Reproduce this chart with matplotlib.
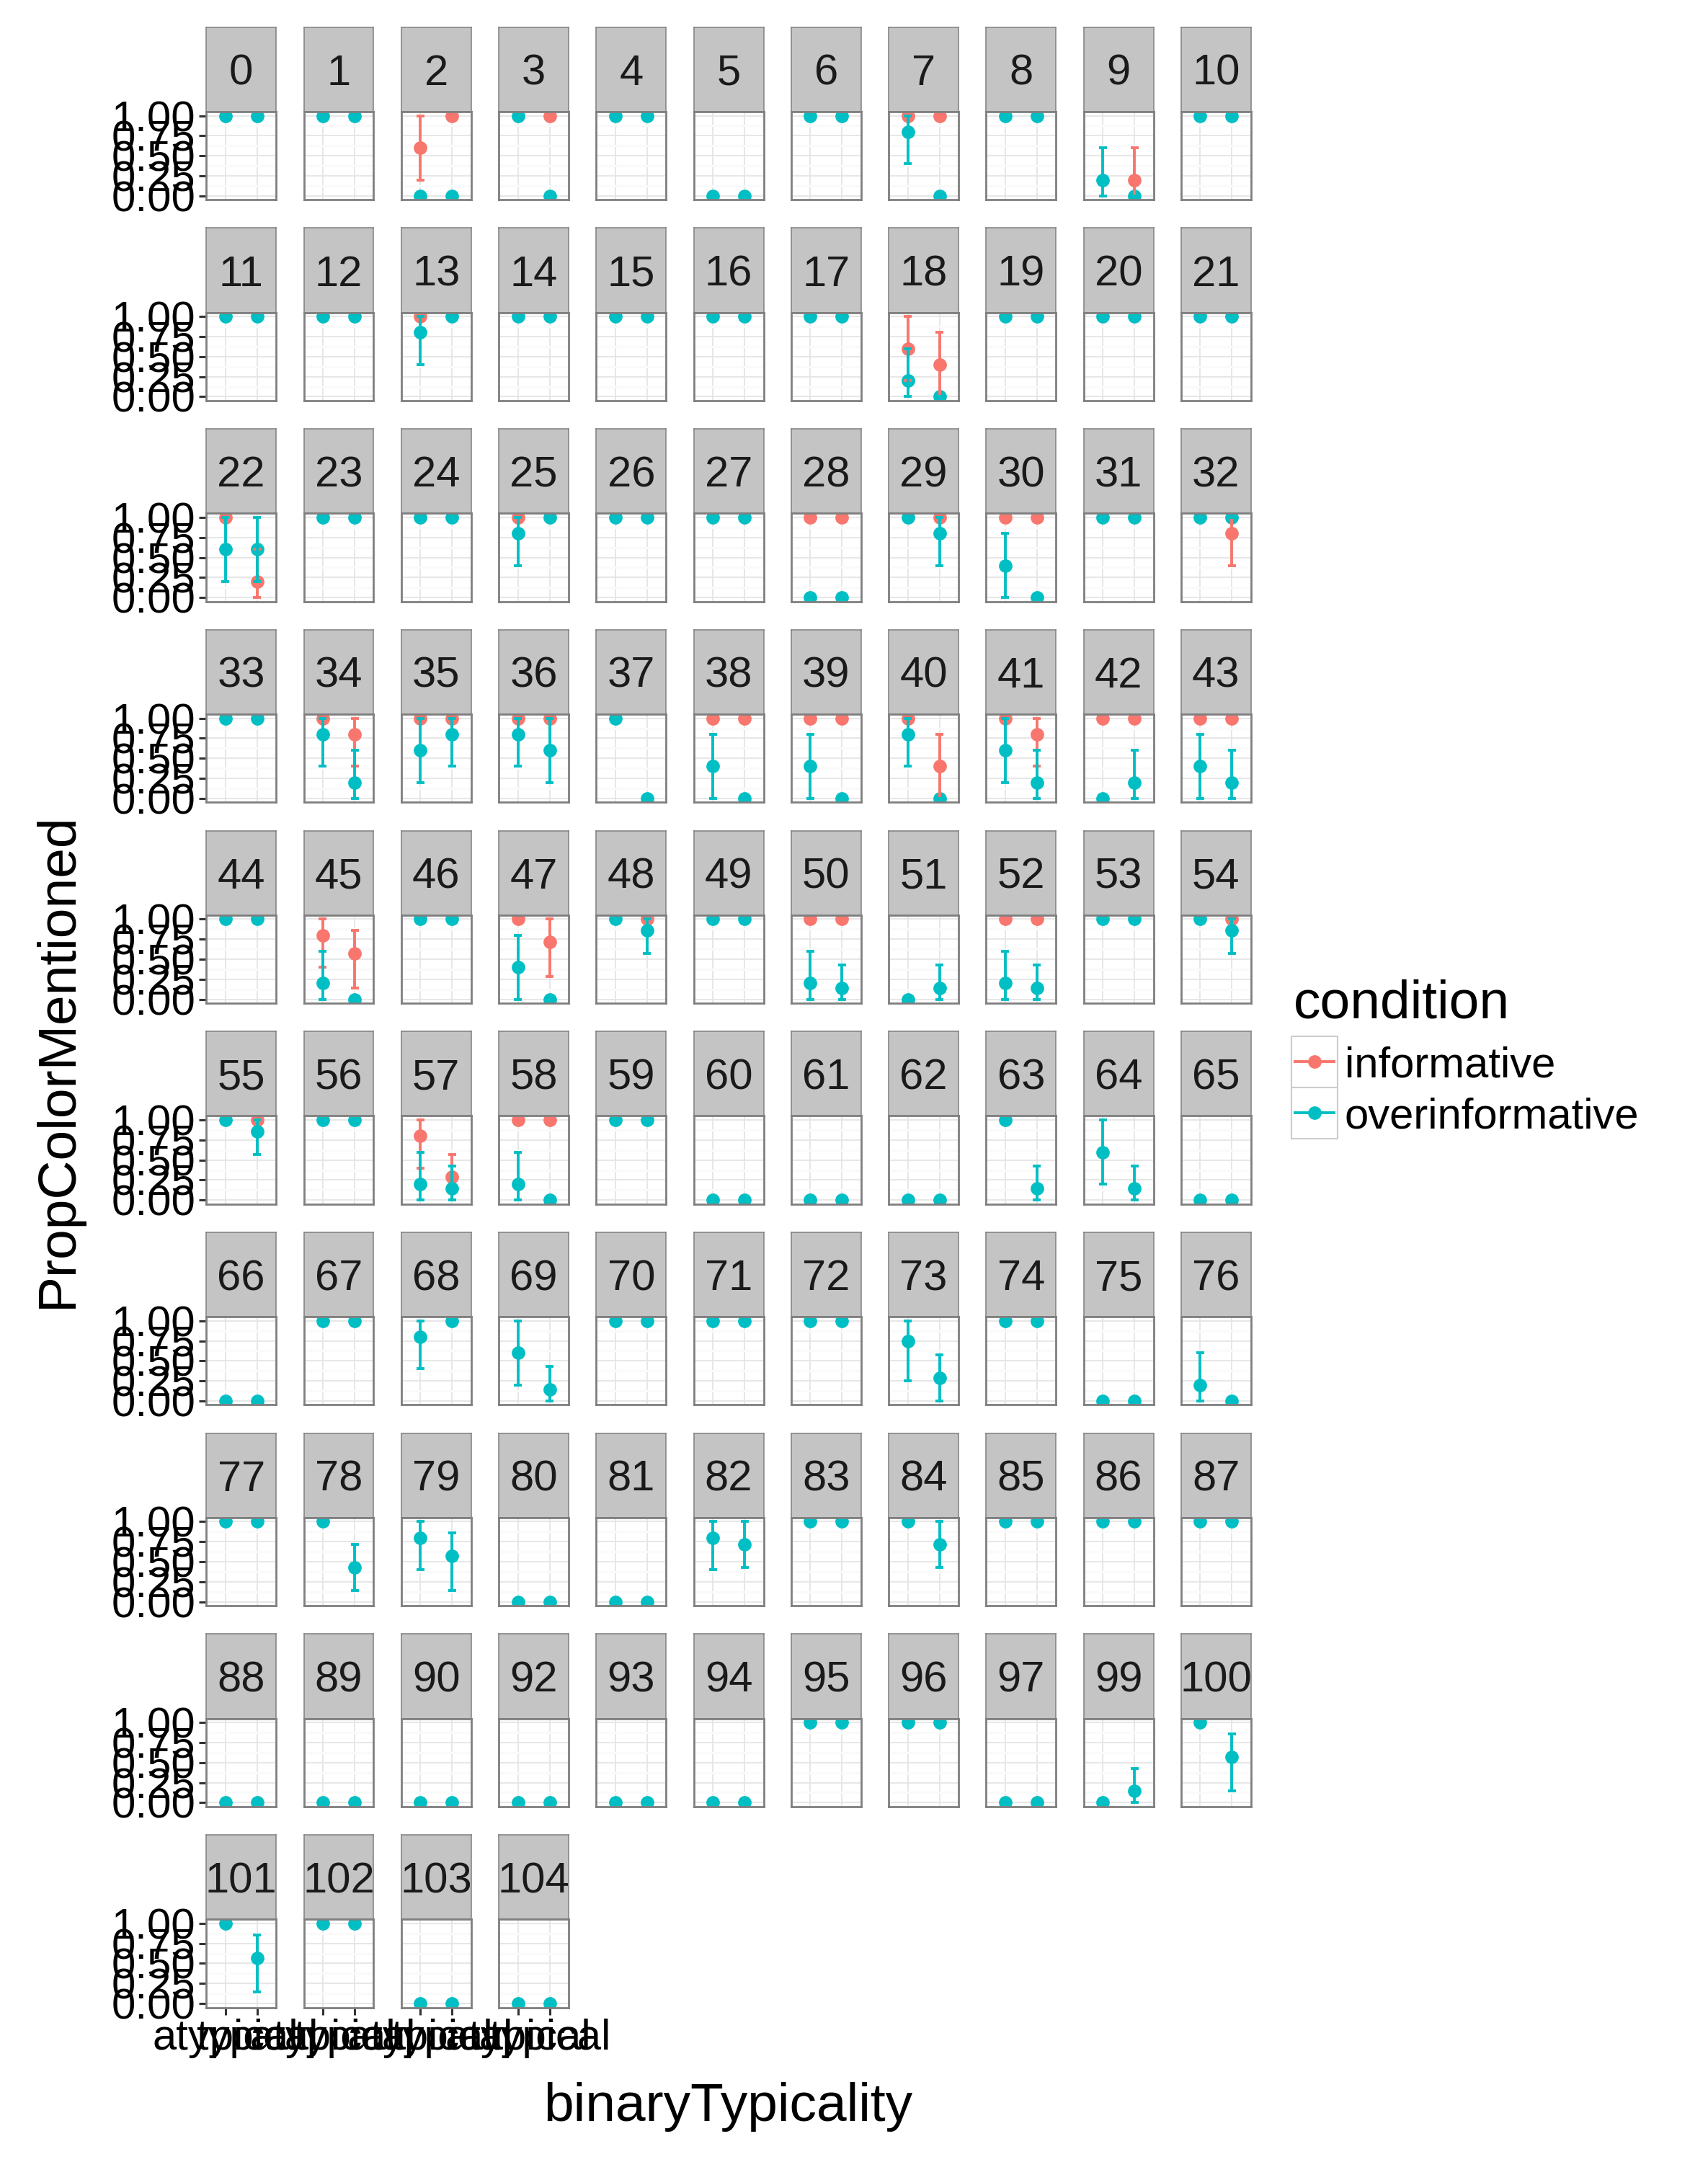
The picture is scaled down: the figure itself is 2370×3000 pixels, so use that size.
import matplotlib
matplotlib.use("Agg")
import matplotlib.pyplot as plt
from matplotlib.patches import Rectangle
from matplotlib.ticker import FixedLocator

plt.rcParams['font.family'] = ['Liberation Sans', 'DejaVu Sans']

# ---------------- data ----------------
panels = list(range(0, 91)) + [92, 93, 94, 95, 96, 97, 99, 100, 101, 102, 103, 104]
typicality_levels = ["atypical", "typical"]
conditions = ["informative", "overinformative"]
y_breaks = [0.0, 0.25, 0.5, 0.75, 1.0]
y_labels = ["0.00", "0.25", "0.50", "0.75", "1.00"]

# value: mean, or (mean, ci_low, ci_high)
inf_atypical = {2: (0.6, 0.2, 1.0), 7: 1, 13: 1, 18: (0.6, 0.2, 1.0), 22: 1, 25: 1, 28: 1,
                30: 1, 34: 1, 35: 1, 36: 1, 38: 1, 39: 1, 40: 1, 41: 1, 42: 1, 43: 1,
                45: (0.8, 0.4, 1.0), 47: 1, 50: 1, 52: 1, 57: (0.8, 0.4, 1.0), 58: 1}

inf_typical = {2: 1, 3: 1, 7: 1, 9: (0.2, 0.0, 0.6), 18: (0.4, 0.0, 0.8), 22: (0.2, 0.0, 0.6),
               28: 1, 29: 1, 30: 1, 32: (0.8, 0.4, 1.0), 34: (0.8, 0.4, 1.0), 35: 1, 36: 1,
               38: 1, 39: 1, 40: (0.4, 0.0, 0.8), 41: (0.8, 0.4, 1.0), 42: 1, 43: 1,
               45: (0.571, 0.143, 0.857), 47: (0.714, 0.286, 1.0), 48: 1, 50: 1, 52: 1,
               54: 1, 55: 1, 57: (0.286, 0.0, 0.571), 58: 1}

over_atypical = {0: 1, 1: 1, 2: 0, 3: 1, 4: 1, 5: 0, 6: 1, 7: (0.8, 0.4, 1.0), 8: 1,
                 9: (0.2, 0.0, 0.6), 10: 1,
                 11: 1, 12: 1, 13: (0.8, 0.4, 1.0), 14: 1, 15: 1, 16: 1, 17: 1,
                 18: (0.2, 0.0, 0.6), 19: 1, 20: 1, 21: 1,
                 22: (0.6, 0.2, 1.0), 23: 1, 24: 1, 25: (0.8, 0.4, 1.0), 26: 1, 27: 1, 28: 0,
                 29: 1, 30: (0.4, 0.0, 0.8), 31: 1, 32: 1,
                 33: 1, 34: (0.8, 0.4, 1.0), 35: (0.6, 0.2, 1.0), 36: (0.8, 0.4, 1.0), 37: 1,
                 38: (0.4, 0.0, 0.8), 39: (0.4, 0.0, 0.8), 40: (0.8, 0.4, 1.0),
                 41: (0.6, 0.2, 1.0), 42: 0, 43: (0.4, 0.0, 0.8),
                 44: 1, 45: (0.2, 0.0, 0.6), 46: 1, 47: (0.4, 0.0, 0.8), 48: 1, 49: 1,
                 50: (0.2, 0.0, 0.6), 51: 0, 52: (0.2, 0.0, 0.6), 53: 1, 54: 1,
                 55: 1, 56: 1, 57: (0.2, 0.0, 0.6), 58: (0.2, 0.0, 0.6), 59: 1, 60: 0, 61: 0,
                 62: 0, 63: 1, 64: (0.6, 0.2, 1.0), 65: 0,
                 66: 0, 67: 1, 68: (0.8, 0.4, 1.0), 69: (0.6, 0.2, 1.0), 70: 1, 71: 1, 72: 1,
                 73: (0.75, 0.25, 1.0), 74: 1, 75: 0, 76: (0.2, 0.0, 0.6),
                 77: 1, 78: 1, 79: (0.8, 0.4, 1.0), 80: 0, 81: 0, 82: (0.8, 0.4, 1.0), 83: 1,
                 84: 1, 85: 1, 86: 1, 87: 1,
                 88: 0, 89: 0, 90: 0, 92: 0, 93: 0, 94: 0, 95: 1, 96: 1, 97: 0, 99: 0, 100: 1,
                 101: 1, 102: 1, 103: 0, 104: 0}

over_typical = {0: 1, 1: 1, 2: 0, 3: 0, 4: 1, 5: 0, 6: 1, 7: 0, 8: 1, 9: 0, 10: 1,
                11: 1, 12: 1, 13: 1, 14: 1, 15: 1, 16: 1, 17: 1, 18: 0, 19: 1, 20: 1, 21: 1,
                22: (0.6, 0.2, 1.0), 23: 1, 24: 1, 25: 1, 26: 1, 27: 1, 28: 0,
                29: (0.8, 0.4, 1.0), 30: 0, 31: 1, 32: 1,
                33: 1, 34: (0.2, 0.0, 0.6), 35: (0.8, 0.4, 1.0), 36: (0.6, 0.2, 1.0), 37: 0,
                38: 0, 39: 0, 40: 0, 41: (0.2, 0.0, 0.6), 42: (0.2, 0.0, 0.6), 43: (0.2, 0.0, 0.6),
                44: 1, 45: 0, 46: 1, 47: 0, 48: (0.857, 0.571, 1.0), 49: 1,
                50: (0.143, 0.0, 0.429), 51: (0.143, 0.0, 0.429), 52: (0.143, 0.0, 0.429), 53: 1,
                54: (0.857, 0.571, 1.0),
                55: (0.857, 0.571, 1.0), 56: 1, 57: (0.143, 0.0, 0.429), 58: 0, 59: 1, 60: 0,
                61: 0, 62: 0, 63: (0.143, 0.0, 0.429), 64: (0.143, 0.0, 0.429), 65: 0,
                66: 0, 67: 1, 68: 1, 69: (0.143, 0.0, 0.429), 70: 1, 71: 1, 72: 1,
                73: (0.286, 0.0, 0.571), 74: 1, 75: 0, 76: 0,
                77: 1, 78: (0.429, 0.143, 0.714), 79: (0.571, 0.143, 0.857), 80: 0, 81: 0,
                82: (0.714, 0.429, 1.0), 83: 1, 84: (0.714, 0.429, 1.0), 85: 1, 86: 1, 87: 1,
                88: 0, 89: 0, 90: 0, 92: 0, 93: 0, 94: 0, 95: 1, 96: 1, 97: 0,
                99: (0.143, 0.0, 0.429), 100: (0.571, 0.143, 0.857),
                101: (0.571, 0.143, 0.857), 102: 1, 103: 0, 104: 0}

series = {
    ("informative", "atypical"): inf_atypical,
    ("informative", "typical"): inf_typical,
    ("overinformative", "atypical"): over_atypical,
    ("overinformative", "typical"): over_typical,
}

# ---------------- style / layout ----------------
colors = {"informative": "#F8766D", "overinformative": "#00BFC4"}
W, H = 2370, 3000
NCOL = 11
col_left0, col_step, panel_w = 286.3, 135.26, 96.9
row_top0, row_step, strip_h, panel_h = 37.7, 278.7, 117.3, 122.3
SMALL = 43
BIG = 54
MS = 13.5
LW = 2.8
CAP_HALF = 0.125
strip_fill = "#C4C4C4"
border_col = "#7F7F7F"

fig = plt.figure(figsize=(W / 100, H / 100), dpi=100)
fig.patch.set_facecolor("white")


def px_axes(x, y, w, h):
    return fig.add_axes([x / W, 1 - (y + h) / H, w / W, h / H])


def norm(v):
    if isinstance(v, tuple):
        return v
    return (v, v, v)


n_rows = (len(panels) + NCOL - 1) // NCOL
for i, p in enumerate(panels):
    r, c = divmod(i, NCOL)
    x0 = col_left0 + c * col_step
    ytop = row_top0 + r * row_step

    # strip
    sax = px_axes(x0, ytop, panel_w, strip_h)
    sax.set_facecolor(strip_fill)
    sax.set_xticks([])
    sax.set_yticks([])
    for s in sax.spines.values():
        s.set_color(border_col)
        s.set_linewidth(1.1)
    sax.text(0.5, 0.5, str(p), ha="center", va="center_baseline", fontsize=SMALL,
             color="#1A1A1A", transform=sax.transAxes)

    # panel
    ax = px_axes(x0, ytop + strip_h, panel_w, panel_h)
    ax.set_facecolor("white")
    ax.set_xlim(0.4, 2.6)
    ax.set_ylim(-0.05, 1.05)
    ax.set_xticks([1, 2])
    ax.set_yticks(y_breaks)
    ax.yaxis.set_minor_locator(FixedLocator([0.125, 0.375, 0.625, 0.875]))
    ax.set_axisbelow(True)
    ax.grid(which="minor", axis="y", color="#FAFAFA", linewidth=2.2)
    ax.grid(which="major", color="#E5E5E5", linewidth=1.3)
    ax.tick_params(which="minor", length=0)
    for s in ax.spines.values():
        s.set_color(border_col)
        s.set_linewidth(2.0)

    if c == 0:
        ax.set_yticklabels(y_labels)
        ax.tick_params(axis="y", which="major", length=7, width=2.2, color="#333333",
                       pad=4, labelsize=SMALL, labelcolor="black")
    else:
        ax.tick_params(axis="y", which="major", length=0, labelleft=False)

    if r == n_rows - 1:
        ax.set_xticklabels(typicality_levels)
        ax.tick_params(axis="x", length=7, width=2.2, color="#333333", pad=4,
                       labelsize=SMALL, labelcolor="black")
    else:
        ax.tick_params(axis="x", length=0, labelbottom=False)

    # points
    for cond in conditions:
        xs, ys = [], []
        for k, typ in enumerate(typicality_levels):
            d = series[(cond, typ)]
            if p in d:
                m, lo, hi = norm(d[p])
                xs.append(k + 1)
                ys.append(m)
        if xs:
            ax.plot(xs, ys, "o", color=colors[cond], ms=MS, mew=0, zorder=2.0)
    # error bars (drawn above points)
    for cond in conditions:
        for k, typ in enumerate(typicality_levels):
            d = series[(cond, typ)]
            if p in d:
                m, lo, hi = norm(d[p])
                xk = k + 1
                ax.vlines(xk, lo, hi, color=colors[cond], linewidth=LW, zorder=2.2)
                ax.hlines([lo, hi], xk - CAP_HALF, xk + CAP_HALF, color=colors[cond],
                          linewidth=LW, zorder=2.2)

# ---------------- titles and legend ----------------
fig.text(80 / W, 1 - 1471 / H, "PropColorMentioned", rotation=90, ha="center",
         va="center", fontsize=BIG, color="black")
fig.text(1010 / W, 1 - 2923 / H, "binaryTypicality", ha="center", va="center",
         fontsize=BIG, color="black")

ov = fig.add_axes([0, 0, 1, 1])
ov.set_xlim(0, W)
ov.set_ylim(H, 0)
ov.axis("off")
ov.patch.set_visible(False)

ov.text(1795, 1393, "condition", ha="left", va="center", fontsize=BIG, color="black")
key_x, key_w, key_h = 1792, 64, 71
key_centers = [1473, 1544]
for cond, yc in zip(conditions, key_centers):
    ov.add_patch(Rectangle((key_x, yc - key_h / 2), key_w, key_h, facecolor="white",
                           edgecolor="#CCCCCC", linewidth=1.5))
    ov.plot([key_x + 3, key_x + key_w - 3], [yc, yc], color=colors[cond], linewidth=LW,
            solid_capstyle="butt")
    ov.plot([key_x + key_w / 2], [yc], "o", color=colors[cond], ms=MS, mew=0)
    ov.text(1866, yc, cond, ha="left", va="center_baseline", fontsize=SMALL, color="black")

fig.savefig("out.png", dpi=100, facecolor="white")
